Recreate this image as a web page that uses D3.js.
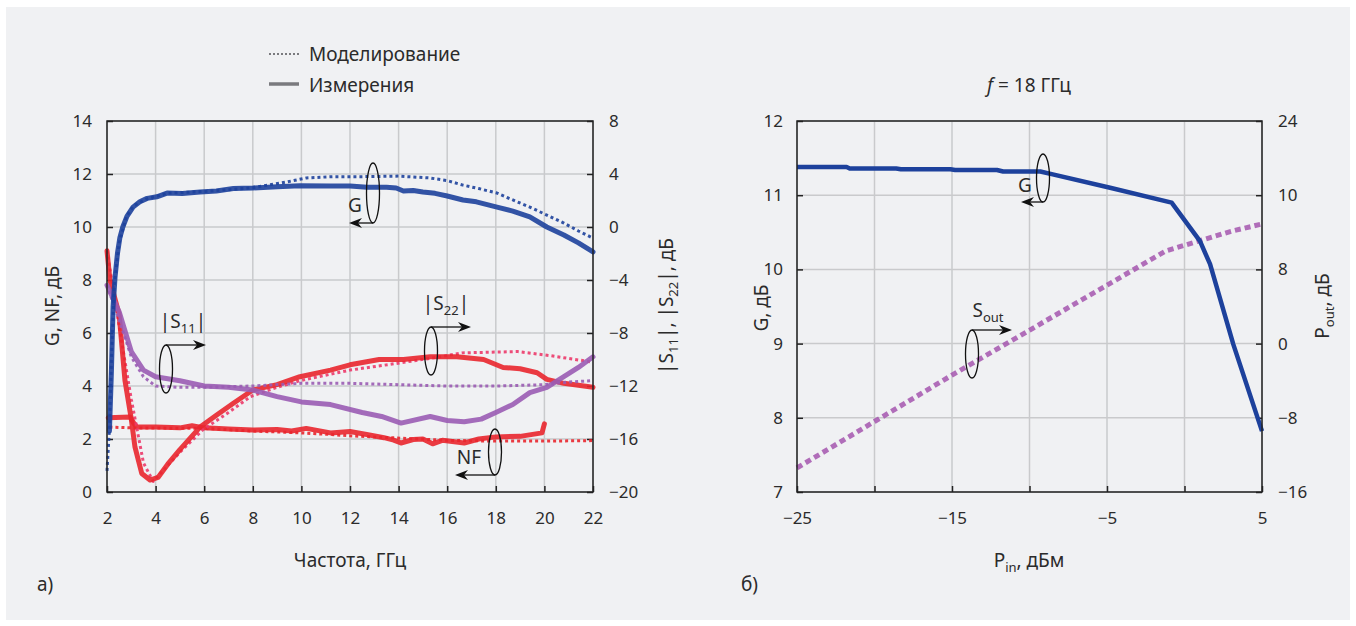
<!DOCTYPE html>
<html>
<head>
<meta charset="utf-8">
<script src="https://cdn.jsdelivr.net/npm/d3@7"></script>
<style>
  body { margin: 0; background: #fff; }
  text { font-family: "Noto Sans", "Open Sans", sans-serif; fill: #2b2b2b; }
  .grid line { stroke: #c9cacc; stroke-width: 1.5; }
  .axis line { stroke: #222; stroke-width: 1.5; }
  .axis path { display: none; }
  .axis text { font-size: 17px; font-family: "Noto Sans", sans-serif; fill: #2b2b2b; }
</style>
</head>
<body>
<svg width="1356" height="626"></svg>
<script>
// ---- panel a: frequency sweep ----
var freqTicks = [2, 4, 6, 8, 10, 12, 14, 16, 18, 20, 22];
var gnfTicks = [0, 2, 4, 6, 8, 10, 12, 14];
var sTicks = [-20, -16, -12, -8, -4, 0, 4, 8];

// G, dB (measured / simulated)
var gMeasF = [2.1, 2.18, 2.25, 2.33, 2.43, 2.53, 2.65, 2.82, 3.07, 3.35, 3.65, 4.05, 4.47, 5.1, 5.83, 6.5, 7.2, 8.0, 9.0, 9.94, 11.2, 12.0, 12.7, 13.5, 13.9, 14.2, 14.6, 15.0, 15.5, 16.0, 16.65, 17.2, 18.05, 18.7, 19.4, 20.1, 20.8, 21.4, 22.0];
var gMeas  = [2.3, 4.5, 6.98, 8.1, 9.0, 9.6, 10.0, 10.4, 10.75, 10.95, 11.08, 11.14, 11.28, 11.26, 11.32, 11.36, 11.45, 11.47, 11.52, 11.56, 11.55, 11.55, 11.5, 11.5, 11.47, 11.36, 11.38, 11.32, 11.27, 11.17, 11.02, 10.95, 10.75, 10.6, 10.38, 10.0, 9.7, 9.4, 9.06];
var gSimF = [2.0, 2.1, 2.2, 2.3, 2.5, 2.8, 3.1, 3.6, 4.5, 6.0, 8.0, 9.4, 10.2, 11.3, 12.5, 14.0, 15.3, 16.0, 16.65, 17.3, 18.05, 18.7, 19.4, 20.1, 20.8, 21.4, 22.0];
var gSim  = [0.8, 2.4, 5.5, 7.8, 9.4, 10.4, 10.8, 11.05, 11.28, 11.34, 11.48, 11.7, 11.85, 11.9, 11.9, 11.92, 11.85, 11.75, 11.58, 11.45, 11.28, 11.02, 10.75, 10.45, 10.15, 9.85, 9.58];

// NF, dB
var nfMeasF = [2.05, 2.95, 3.1, 3.23, 4.0, 5.0, 5.5, 6.0, 7.0, 8.0, 9.0, 9.6, 10.2, 11.2, 12.0, 12.8, 13.4, 13.8, 14.1, 14.6, 15.0, 15.4, 15.8, 16.7, 17.3, 18.0, 19.0, 19.9, 20.0];
var nfMeas  = [2.8, 2.83, 2.6, 2.45, 2.45, 2.42, 2.5, 2.42, 2.38, 2.34, 2.36, 2.3, 2.4, 2.23, 2.28, 2.15, 2.05, 1.96, 1.85, 1.98, 2.0, 1.82, 1.95, 1.85, 2.0, 2.08, 2.1, 2.23, 2.57];
var nfSimF = [2.1, 3.0, 6.0, 8.0, 10.0, 11.2, 12.0, 13.9, 16.0, 18.0, 20.0, 22.0];
var nfSim  = [2.45, 2.42, 2.4, 2.3, 2.23, 2.17, 2.12, 2.04, 1.95, 1.92, 1.92, 1.94];

// |S11|, dB (right axis)
var s11MeasF = [2.0, 2.5, 3.0, 3.5, 4.0, 5.0, 6.0, 7.0, 8.0, 9.0, 10.0, 11.2, 12.5, 13.3, 14.1, 15.3, 16.0, 16.7, 17.4, 18.0, 18.7, 19.4, 20.1, 20.8, 21.4, 22.0];
var s11Meas  = [-4.4, -6.4, -9.4, -10.8, -11.3, -11.6, -12.0, -12.1, -12.3, -12.8, -13.2, -13.4, -14.0, -14.3, -14.8, -14.3, -14.6, -14.7, -14.5, -14.0, -13.4, -12.5, -12.1, -11.3, -10.6, -9.8];
var s11SimF = [2.0, 2.5, 3.0, 3.5, 4.0, 5.0, 6.0, 8.0, 10.0, 12.0, 14.0, 16.0, 18.0, 20.0, 21.0, 22.0];
var s11Sim  = [-4.4, -7.0, -9.8, -11.3, -12.0, -12.1, -12.1, -12.0, -11.8, -11.8, -11.9, -12.0, -12.0, -11.9, -11.7, -11.6];

// |S22|, dB (right axis)
var s22MeasF = [2.0, 2.12, 2.5, 2.74, 3.0, 3.15, 3.43, 3.77, 4.1, 4.5, 5.0, 5.83, 6.5, 7.2, 8.0, 9.0, 9.94, 11.2, 12.0, 13.2, 14.2, 15.3, 16.4, 17.5, 18.3, 19.0, 19.7, 20.1, 20.8, 22.0];
var s22Meas  = [-1.8, -4.0, -6.6, -11.6, -14.5, -16.6, -18.6, -19.1, -18.9, -17.9, -16.8, -15.1, -14.2, -13.3, -12.3, -11.9, -11.3, -10.8, -10.4, -10.0, -10.0, -9.8, -9.8, -10.0, -10.6, -10.7, -11.0, -11.5, -11.8, -12.1];
var s22SimF = [2.0, 2.5, 3.0, 3.5, 3.9, 4.5, 5.0, 5.95, 7.0, 7.9, 9.0, 9.94, 12.0, 13.9, 15.7, 16.6, 18.9, 20.2, 22.0];
var s22Sim  = [-1.8, -7.5, -13.0, -17.8, -19.2, -18.0, -17.0, -15.3, -14.0, -12.8, -12.1, -11.6, -10.8, -10.3, -9.8, -9.5, -9.4, -9.7, -10.2];

// ---- panel b: power sweep at 18 GHz ----
var pinTicks = [-25, -20, -15, -10, -5, 0, 5];
var pinLabels = {"-25": "\u221225", "-15": "\u221215", "-5": "\u22125", "5": "5"};
var gbTicks = [7, 8, 9, 10, 11, 12];
var poutTicks = [-16, -8, 0, 8, 16, 24];
var poutLabels = ["\u221216", "\u22128", "0", "8", "10", "24"];

var pinG = [-25, -21.8, -21.6, -18.6, -18.3, -15.1, -14.8, -12.1, -11.7, -9.3, -8.5, -4.8, -0.83, 1.0, 1.65, 3.15, 5.0];
var gainB = [11.38, 11.38, 11.36, 11.36, 11.35, 11.35, 11.34, 11.34, 11.32, 11.32, 11.28, 11.1, 10.9, 10.38, 10.07, 8.99, 7.82];
var pinOut = [-25, -20, -15, -12, -5, -1.2, 1.0, 3.0, 5.0];
var pout   = [-13.4, -8.4, -3.4, -0.5, 6.3, 10.0, 11.1, 12.1, 12.9];

var blue = "#1d419c", red = "#e9262e", purple = "#9a5cb4", magenta = "#a456ae";
var fs = 19;

var svg = d3.select("svg");
svg.append("rect").attr("x", 6).attr("y", 7).attr("width", 1344).attr("height", 613).attr("fill", "#f0f1f3");

function zipXY(xs, ys) { return xs.map(function(x, i) { return [x, ys[i]]; }); }

function frame(g, w, h) {
  g.append("rect").attr("width", w).attr("height", h)
    .attr("fill", "none").attr("stroke", "#222").attr("stroke-width", 1.5);
}

function ellipseNote(g, cx, cy, ry, dir, len, fromTop) {
  var yA = fromTop ? cy - ry : cy + ry;
  g.append("ellipse").attr("cx", cx).attr("cy", cy).attr("rx", 6.5).attr("ry", ry)
    .attr("fill", "none").attr("stroke", "#111").attr("stroke-width", 1.3);
  var x2 = cx + dir * len;
  g.append("line").attr("x1", cx).attr("y1", yA).attr("x2", x2 - dir * 8).attr("y2", yA)
    .attr("stroke", "#111").attr("stroke-width", 1.3);
  g.append("path")
    .attr("d", "M" + x2 + "," + yA + "L" + (x2 - dir * 13) + "," + (yA - 5) + "L" + (x2 - dir * 9) + "," + yA + "L" + (x2 - dir * 13) + "," + (yA + 5) + "Z")
    .attr("fill", "#111");
}

function label(x, y, html, rot) {
  var t = svg.append("text").attr("text-anchor", "middle").attr("font-size", fs).html(html);
  if (rot) t.attr("transform", "translate(" + x + "," + y + ") rotate(-90)");
  else t.attr("x", x).attr("y", y);
  return t;
}
function sub(s) { return '<tspan font-size="13" dy="5">' + s + '</tspan>'; }
function up(s) { return '<tspan dy="-5">' + s + '</tspan>'; }

// ===== panel a =====
var aL = 107, aT = 121, aW = 486, aH = 371;
var ga = svg.append("g").attr("transform", "translate(" + aL + "," + aT + ")");

var xa = d3.scaleLinear().domain([2, 22]).range([0, aW]);
var ya = d3.scaleLinear().domain([0, 14]).range([aH, 0]);
var ya2 = d3.scaleLinear().domain([-20, 8]).range([aH, 0]);

ga.append("g").attr("class", "grid").selectAll("line").data(freqTicks).enter().append("line")
  .attr("x1", xa).attr("x2", xa).attr("y1", 0).attr("y2", aH);
ga.append("g").attr("class", "grid").selectAll("line").data(gnfTicks).enter().append("line")
  .attr("y1", ya).attr("y2", ya).attr("x1", 0).attr("x2", aW);

var minus = function(d) { return d < 0 ? "\u2212" + (-d) : "" + d; };
ga.append("g").attr("class", "axis").call(d3.axisLeft(ya).tickValues(gnfTicks).tickSize(-6).tickPadding(15).tickFormat(minus));
ga.append("g").attr("class", "axis").attr("transform", "translate(" + aW + ",0)")
  .call(d3.axisRight(ya2).tickValues(sTicks).tickSize(-6).tickPadding(16).tickFormat(minus));
ga.append("g").attr("class", "axis").attr("transform", "translate(0," + aH + ")")
  .call(d3.axisBottom(xa).tickValues(freqTicks).tickSize(-6).tickPadding(20).tickFormat(minus));

var lineA = d3.line().x(function(d) { return xa(d[0]); }).y(function(d) { return ya(d[1]); });
var lineA2 = d3.line().x(function(d) { return xa(d[0]); }).y(function(d) { return ya2(d[1]); });

var plotA = ga.append("g").attr("fill", "none").attr("stroke-linejoin", "round").attr("stroke-linecap", "round");
function meas(path, color) {
  plotA.append("path").attr("d", path).attr("stroke", color).attr("stroke-width", 5).attr("opacity", 0.9);
}
function sim(path, color) {
  plotA.append("path").attr("d", path).attr("stroke", color).attr("stroke-width", 3)
    .attr("stroke-dasharray", "3,3").attr("stroke-linecap", "butt").attr("opacity", 0.9);
}
sim(lineA(zipXY(nfSimF, nfSim)), red);
meas(lineA(zipXY(nfMeasF, nfMeas)), red);
sim(lineA2(zipXY(s22SimF, s22Sim)), "#ec3a6a");
meas(lineA2(zipXY(s22MeasF, s22Meas)), red);
sim(lineA2(zipXY(s11SimF, s11Sim)), purple);
meas(lineA2(zipXY(s11MeasF, s11Meas)), purple);
sim(lineA(zipXY(gSimF, gSim)), blue);
meas(lineA(zipXY(gMeasF, gMeas)), blue);

frame(ga, aW, aH);

// annotations (panel a)
ellipseNote(svg, 373, 193, 30, -1, 24, false);
label(355, 212, "G");
ellipseNote(svg, 166, 369, 24, 1, 40, true);
label(183, 328, "|S" + sub("11") + up("|"));
ellipseNote(svg, 431, 351, 24, 1, 40, true);
label(446, 310, "|S" + sub("22") + up("|"));
ellipseNote(svg, 495, 452, 23, -1, 40, false);
label(469, 464, "NF");

// legend
svg.append("line").attr("x1", 269).attr("x2", 299).attr("y1", 54).attr("y2", 54)
  .attr("stroke", "#7a7a7e").attr("stroke-width", 2).attr("stroke-dasharray", "2,2");
svg.append("line").attr("x1", 269).attr("x2", 299).attr("y1", 84).attr("y2", 84)
  .attr("stroke", "#7a7a7e").attr("stroke-width", 3.5);
svg.append("text").attr("x", 309).attr("y", 61).attr("font-size", fs).text("Моделирование");
svg.append("text").attr("x", 309).attr("y", 92).attr("font-size", fs).text("Измерения");

// axis titles (panel a)
label(350, 567, "Частота, ГГц");
label(59, 306, "G, NF, дБ", true);
label(673, 306, "|S" + sub("11") + up("|, |S") + sub("22") + up("|, дБ"), true);
svg.append("text").attr("x", 37).attr("y", 591).attr("font-size", fs).text("а)");

// ===== panel b =====
var bL = 797, bT = 121, bW = 465, bH = 371;
var gb = svg.append("g").attr("transform", "translate(" + bL + "," + bT + ")");

var xb = d3.scaleLinear().domain([-25, 5]).range([0, bW]);
var yb = d3.scaleLinear().domain([7, 12]).range([bH, 0]);
var yb2 = d3.scaleLinear().domain([-16, 24]).range([bH, 0]);

gb.append("g").attr("class", "grid").selectAll("line").data(pinTicks).enter().append("line")
  .attr("x1", xb).attr("x2", xb).attr("y1", 0).attr("y2", bH);
gb.append("g").attr("class", "grid").selectAll("line").data(gbTicks).enter().append("line")
  .attr("y1", yb).attr("y2", yb).attr("x1", 0).attr("x2", bW);

gb.append("g").attr("class", "axis").call(d3.axisLeft(yb).tickValues(gbTicks).tickSize(-6).tickPadding(14).tickFormat(d3.format("d")));
gb.append("g").attr("class", "axis").attr("transform", "translate(" + bW + ",0)")
  .call(d3.axisRight(yb2).tickValues(poutTicks).tickSize(-6).tickPadding(16)
    .tickFormat(function(d, i) { return poutLabels[i]; }));
gb.append("g").attr("class", "axis").attr("transform", "translate(0," + bH + ")")
  .call(d3.axisBottom(xb).tickValues(pinTicks).tickSize(-6).tickPadding(20)
    .tickFormat(function(d) { return pinLabels[d] || ""; }));

var lineB = d3.line().x(function(d) { return xb(d[0]); }).y(function(d) { return yb(d[1]); });
var lineB2 = d3.line().x(function(d) { return xb(d[0]); }).y(function(d) { return yb2(d[1]); });

gb.append("path").attr("d", lineB2(zipXY(pinOut, pout))).attr("fill", "none")
  .attr("stroke", magenta).attr("stroke-width", 5).attr("stroke-dasharray", "6,4").attr("opacity", 0.85);
gb.append("path").attr("d", lineB(zipXY(pinG, gainB))).attr("fill", "none")
  .attr("stroke", blue).attr("stroke-width", 4.5).attr("stroke-linejoin", "round");

frame(gb, bW, bH);

// annotations (panel b)
ellipseNote(svg, 1043, 178, 24, -1, 22, false);
label(1025, 192, "G");
ellipseNote(svg, 972, 354, 24, 1, 40, true);
label(988, 317, "S" + sub("out"));

svg.append("text").attr("x", 1029).attr("y", 92).attr("text-anchor", "middle").attr("font-size", fs)
  .html('<tspan font-style="italic">f</tspan> = 18 ГГц');
label(1029, 567, "P" + sub("in") + up(", дБм"));
label(768, 308, "G, дБ", true);
label(1329, 306, "P" + sub("out") + up(", дБ"), true);
svg.append("text").attr("x", 741).attr("y", 591).attr("font-size", fs).text("б)");
</script>
</body>
</html>
